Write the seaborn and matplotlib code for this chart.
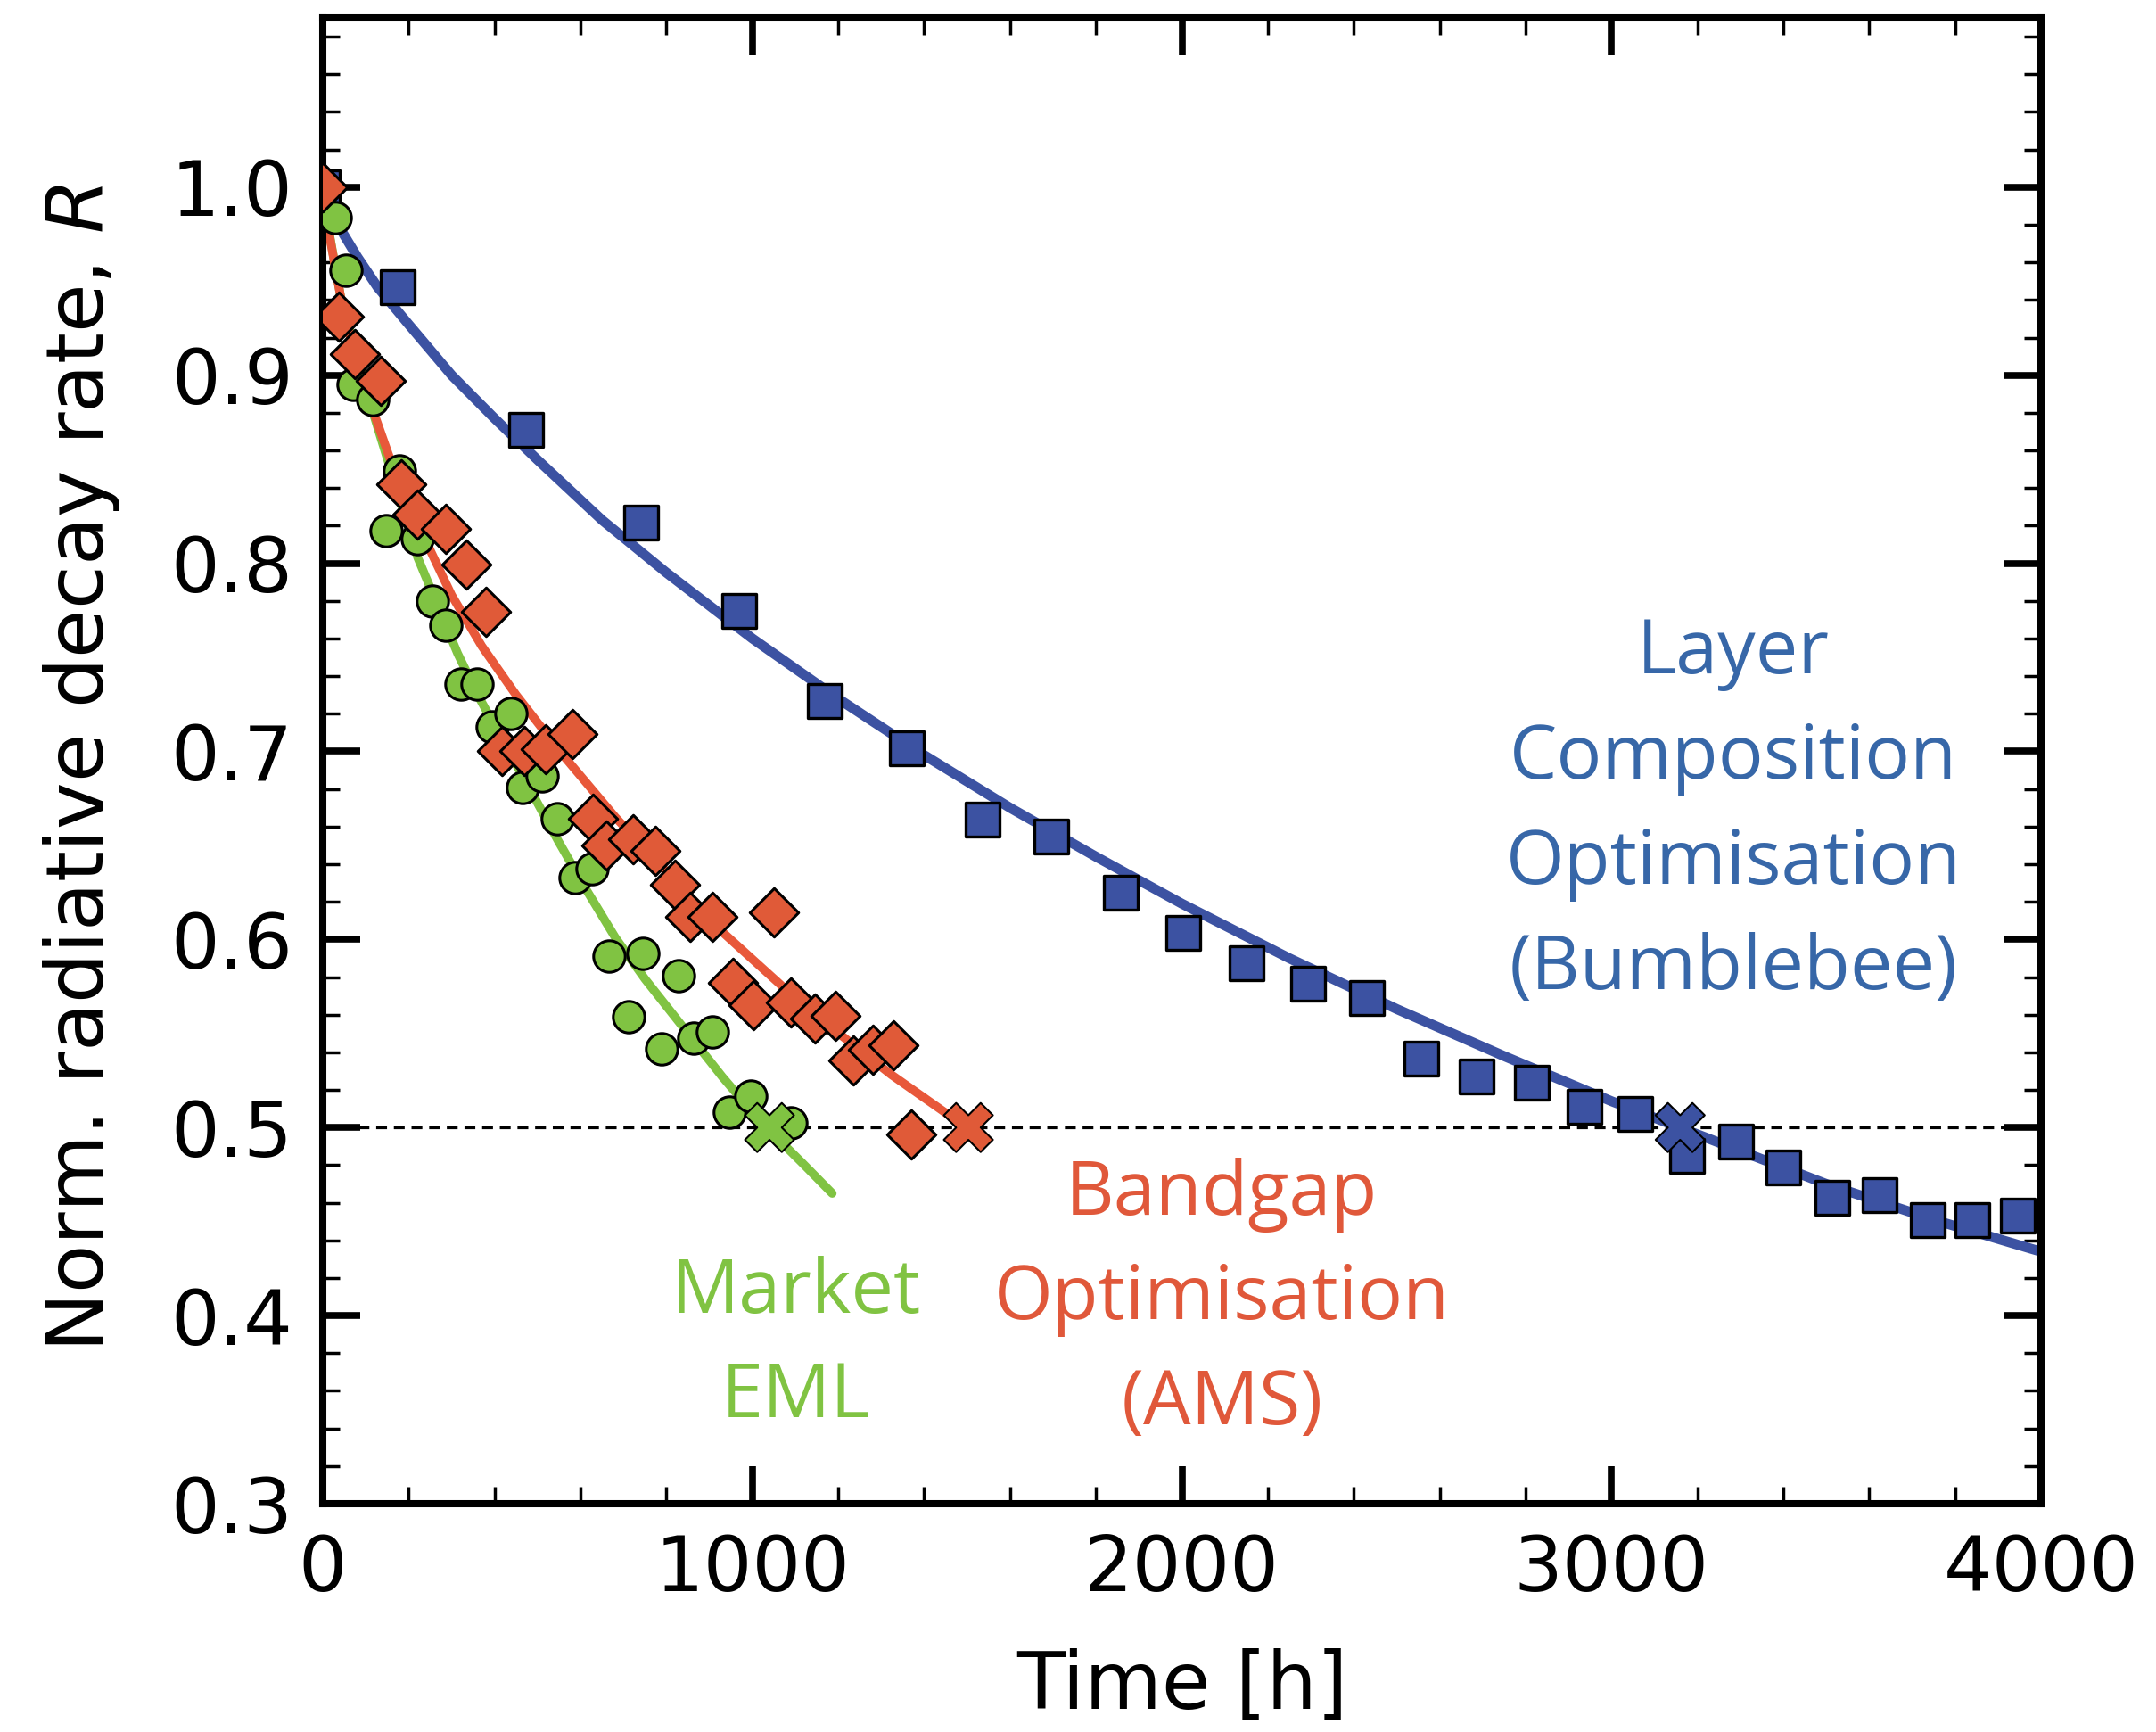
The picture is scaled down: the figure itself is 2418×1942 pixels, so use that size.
import numpy as np
import pandas as pd
import matplotlib
matplotlib.use("Agg")
import matplotlib.pyplot as plt
import seaborn as sns
from matplotlib.ticker import MultipleLocator, FormatStrFormatter

# ---------------- data ----------------
# Layer Composition Optimisation (Bumblebee) - blue squares
blue_t = [0, 174, 474, 741, 970, 1169, 1360, 1536, 1695, 1858, 2003, 2150, 2294,
          2431, 2557, 2686, 2814, 2937, 3056, 3176, 3290, 3400, 3514, 3624, 3737,
          3841, 3946]
blue_r = [1.0, 0.947, 0.871, 0.8216, 0.7746, 0.727, 0.7017, 0.6637, 0.6546, 0.625,
          0.6036, 0.5872, 0.5764, 0.569, 0.5365, 0.527, 0.5236, 0.511, 0.507, 0.485,
          0.4924, 0.4787, 0.4625, 0.4641, 0.451, 0.451, 0.453]
# curve
blue_fit_t = [0, 10, 35, 80, 127, 200, 300, 400, 500, 650, 800, 1000, 1200, 1400,
              1600, 1800, 2000, 2250, 2500, 2750, 3000, 3250, 3500, 3750, 4000]
blue_fit_r = [1.0, 0.993, 0.980, 0.963, 0.947, 0.927, 0.900, 0.877, 0.855, 0.823,
              0.795, 0.760, 0.728, 0.698, 0.670, 0.644, 0.619, 0.590, 0.563, 0.538,
              0.514, 0.492, 0.470, 0.451, 0.434]

# Bandgap Optimisation (AMS) - orange diamonds
orange_t = [0, 37, 75, 134, 183, 221, 286, 335, 380, 418, 470, 518, 581, 629, 660,
            722, 774, 819, 856, 907, 954, 1003, 1051, 1089, 1145, 1193, 1235, 1280,
            1328, 1369]
orange_r = [1.0, 0.931, 0.911, 0.897, 0.842, 0.826, 0.8185, 0.7995, 0.774, 0.700,
            0.700, 0.701, 0.7093, 0.6644, 0.650, 0.6534, 0.647, 0.629, 0.612, 0.612,
            0.5767, 0.565, 0.6146, 0.5665, 0.5578, 0.5594, 0.5357, 0.5413, 0.5437,
            0.4963]
orange_fit_t = [0, 15, 43, 80, 122, 162, 200, 252, 300, 370, 450, 508, 563, 681,
                800, 930, 1075, 1207, 1324, 1455, 1503]
orange_fit_r = [0.995, 0.975, 0.940, 0.905, 0.878, 0.852, 0.831, 0.806, 0.783,
                0.756, 0.730, 0.713, 0.697, 0.665, 0.636, 0.604, 0.574, 0.549,
                0.528, 0.507, 0.500]

# Market EML - green circles
green_t = [30, 55, 70, 116, 148, 179, 221, 255, 286, 321, 359, 394, 439, 466, 511,
           546, 587, 626, 667, 712, 746, 788, 829, 864, 907, 947, 996, 1089]
green_r = [0.984, 0.956, 0.895, 0.887, 0.8175, 0.849, 0.813, 0.780, 0.767, 0.736,
           0.736, 0.713, 0.720, 0.681, 0.687, 0.664, 0.633, 0.6375, 0.591, 0.5587,
           0.5925, 0.542, 0.5807, 0.5476, 0.5507, 0.508, 0.5167, 0.5025]
green_fit_t = [0, 43, 120, 221, 314, 363, 494, 549, 612, 681, 750, 840, 930, 1020,
               1117, 1186]
green_fit_r = [0.995, 0.940, 0.878, 0.803, 0.752, 0.729, 0.675, 0.652, 0.627, 0.601,
               0.579, 0.553, 0.527, 0.503, 0.481, 0.465]

# T50 markers (crosses)
t50_t = [1040, 1503, 3160]
t50_r = [0.5, 0.5, 0.5]

x_ticks = [0, 1000, 2000, 3000, 4000]
y_ticks = [0.3, 0.4, 0.5, 0.6, 0.7, 0.8, 0.9, 1.0]

labels_blue = ["Layer", "Composition", "Optimisation", "(Bumblebee)"]
labels_orange = ["Bandgap", "Optimisation", "(AMS)"]
labels_green = ["Market", "EML"]

# ---------------- styling ----------------
sns.set_style("ticks")
plt.rcParams["font.family"] = ["DejaVu Sans"]
plt.rcParams["mathtext.fontset"] = "dejavusans"
plt.rcParams["text.color"] = "black"
plt.rcParams["axes.labelcolor"] = "black"
plt.rcParams["xtick.color"] = "black"
plt.rcParams["ytick.color"] = "black"

C_BLUE = "#3C52A2"
C_ORANGE = "#E05A38"
C_GREEN = "#80C342"
T_BLUE = "#3767A8"
T_ORANGE = "#E0583A"
T_GREEN = "#80C342"

W, H = 2418, 1942
fig = plt.figure(figsize=(W / 100, H / 100), dpi=100)
L, R_, T, B = 362, 2289, 20, 1686
ax = fig.add_axes([L / W, 1 - B / H, (R_ - L) / W, (B - T) / H])

# reference line at R = 0.5
ax.axhline(0.5, color="black", lw=2.3, ls=(0, (3.8, 2.4)), zorder=1.5)

# fitted lines
sns.lineplot(x=green_fit_t, y=green_fit_r, ax=ax, color=C_GREEN, lw=7,
             sort=False, estimator=None, zorder=2)
sns.lineplot(x=orange_fit_t, y=orange_fit_r, ax=ax, color="#E8583A", lw=7,
             sort=False, estimator=None, zorder=2)
sns.lineplot(x=blue_fit_t, y=blue_fit_r, ax=ax, color=C_BLUE, lw=8,
             sort=False, estimator=None, zorder=2)

# markers
sns.scatterplot(x=blue_t, y=blue_r, ax=ax, marker="s", s=720, color=C_BLUE,
                edgecolor="black", linewidth=2.4, zorder=3)
sns.scatterplot(x=green_t, y=green_r, ax=ax, marker="o", s=650, color=C_GREEN,
                edgecolor="black", linewidth=2.2, zorder=3.5)
sns.scatterplot(x=orange_t, y=orange_r, ax=ax, marker="D", s=770, color=C_ORANGE,
                edgecolor="black", linewidth=2.2, zorder=4)
sns.scatterplot(x=t50_t, y=t50_r, ax=ax, marker="X", s=1570,
                hue=["g", "o", "b"], palette=[C_GREEN, C_ORANGE, C_BLUE],
                edgecolor="black", linewidth=1.5, zorder=5, legend=False)

# axes formatting
ax.set_xlim(0, 4000)
ax.set_ylim(0.3, 1.09)
ax.set_xticks(x_ticks)
ax.set_yticks(y_ticks)
ax.xaxis.set_minor_locator(MultipleLocator(200))
ax.yaxis.set_minor_locator(MultipleLocator(0.02))
ax.yaxis.set_major_formatter(FormatStrFormatter("%.1f"))
ax.tick_params(which="both", direction="in", top=True, right=True,
               colors="black", labelcolor="black")
ax.tick_params(which="major", length=30, width=5.5, labelsize=62, pad=24)
ax.tick_params(which="minor", length=14, width=2.5)
for sp in ax.spines.values():
    sp.set_linewidth(5.8)
    sp.set_color("black")

ax.set_xlabel("Time [h]", fontsize=64, color="black")
ax.set_ylabel("Norm. radiative decay rate, $R$", fontsize=64, color="black")
ax.xaxis.set_label_coords(0.5, -0.097)
ax.yaxis.set_label_coords(-0.117, 0.495)

# annotations (one text per line)
def put_lines(lines, x, ys, color):
    for txt, y in zip(lines, ys):
        ax.text(x, y, txt, color=color, fontsize=61, family="Open Sans",
                ha="center", va="baseline", zorder=6)

put_lines(labels_blue, 3284, [0.7415, 0.6856, 0.6297, 0.5738], T_BLUE)
put_lines(labels_orange, 2093, [0.4536, 0.398, 0.3422], T_ORANGE)
put_lines(labels_green, 1102, [0.4014, 0.346], T_GREEN)

fig.savefig("out.png", dpi=100, facecolor="white")
